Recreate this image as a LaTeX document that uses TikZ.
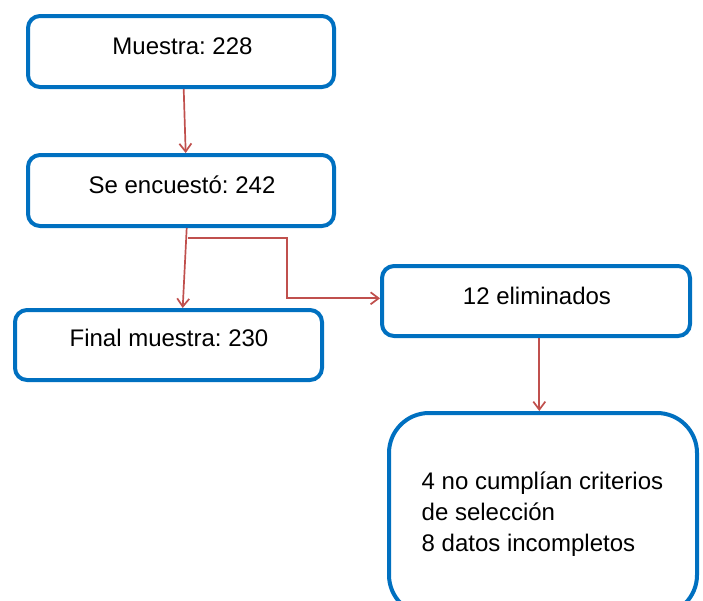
\documentclass[tikz,border=0pt]{standalone}
\usepackage{fontspec}
\setmainfont{Liberation Sans}
\usetikzlibrary{arrows.meta}
\definecolor{boxblue}{HTML}{0070C0}
\definecolor{arrred}{HTML}{C0504D}
\tikzset{
  box/.style={draw=boxblue, line width=4pt, rounded corners=12pt, fill=white, inner sep=0pt},
  bigbox/.style={box, rounded corners=40pt},
  lbl/.style={anchor=base, inner sep=0pt, font=\fontsize{24}{31}\selectfont\frenchspacing},
  conn/.style={draw=arrred, line width=1.7pt, -{Straight Barb[length=8pt,width=12pt,line width=1.7pt]}},
}
\begin{document}
\begin{tikzpicture}[x=1pt,y=1pt]
\useasboundingbox (0,0) rectangle (703,-600);
\begin{scope}
\clip (0,0) rectangle (703,-600);
\node[box, minimum width=306pt, minimum height=71pt] (b1) at (181,-51.5) {};
\node[box, minimum width=306pt, minimum height=71pt] (b2) at (181,-190.5) {};
\node[box, minimum width=307pt, minimum height=70pt] (b3) at (168.5,-345) {};
\node[box, minimum width=308pt, minimum height=70pt] (b4) at (536,-301) {};
\node[bigbox, minimum width=308pt, minimum height=202pt] (b5) at (543,-514) {};
\end{scope}
\node[lbl] (t1) at (182.5,-54) {Muestra: 228};
\node[lbl] (t2) at (182,-193) {Se encuestó: 242};
\node[lbl] (t3) at (169,-346) {Final muestra: 230};
\node[lbl] (t4) at (537,-304) {12 eliminados};
\node[lbl, anchor=base west, align=left] (t5) at (421.5,-551) {4 no cumplían criterios\\de selección\\8 datos incompletos};
\draw[conn] ([xshift=2.7pt]b1.south) -- ([xshift=4.7pt]b2.north);
\draw[conn] ([xshift=5.7pt]b2.south) -- ([xshift=14.2pt]b3.north);
\coordinate (c1) at (188.3,-237.7);
\draw[conn] (c1) -| (287.3,-298.3) -- ([yshift=2.7pt]b4.west);
\draw[conn] ([xshift=3.3pt]b4.south) -- ([xshift=-3.7pt]b5.north);
\end{tikzpicture}
\end{document}
